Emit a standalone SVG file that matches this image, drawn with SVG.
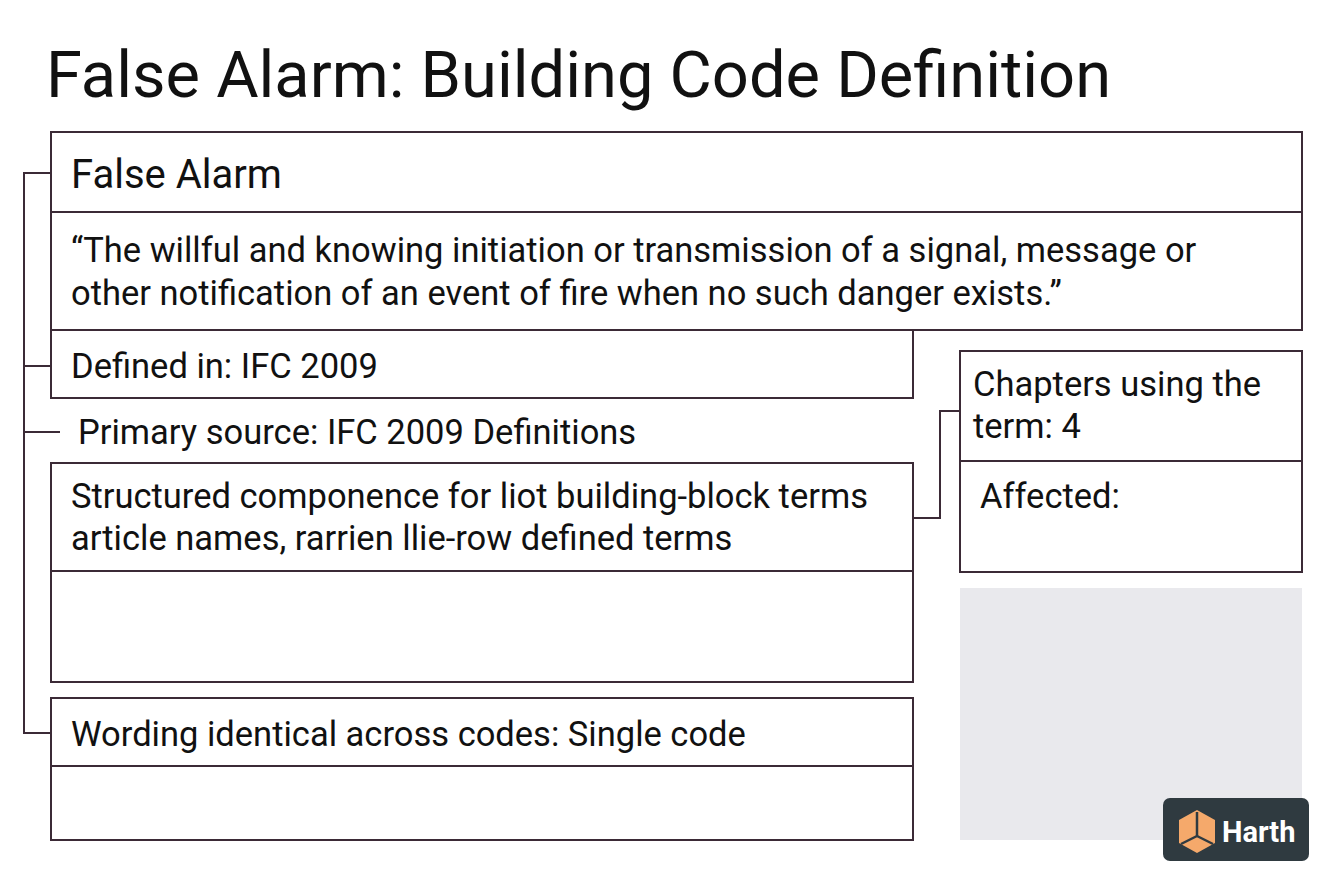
<svg xmlns="http://www.w3.org/2000/svg" width="1344" height="896" viewBox="0 0 1344 896">
<style>
.b{fill:#fff;stroke:#3b2a36;stroke-width:2}
.l{fill:none;stroke:#3b2a36;stroke-width:2}
text{font-family:Roboto,"Liberation Sans",sans-serif;fill:#111}
.t{font-size:34.5px}
</style>
<rect width="1344" height="896" fill="#fff"/>
<text x="46" y="97" font-size="65">False Alarm: Building Code Definition</text>
<g id="connectors">
<polyline class="l" points="51,173 24,173 24,733 51,733"/>
<line class="l" x1="24" y1="366" x2="51" y2="366"/>
<line class="l" x1="24" y1="432" x2="60" y2="432"/>
<polyline class="l" points="913,518 940,518 940,411 960,411"/>
</g>
<g id="definition">
<rect class="b" x="51" y="132" width="1251" height="198"/>
<line class="l" x1="51" y1="212" x2="1302" y2="212"/>
<text x="71" y="188" font-size="40">False Alarm</text>
<text x="71" y="262" class="t">“The willful and knowing initiation or transmission of a signal, message or</text>
<text x="71" y="305" class="t">other notification of an event of fire when no such danger exists.”</text>
</g>
<g id="defined-in">
<rect class="b" x="51" y="330" width="862" height="68"/>
<text x="71" y="378" class="t">Defined in: IFC 2009</text>
</g>
<g id="primary-source">
<text x="78" y="444" class="t">Primary source: IFC 2009 Definitions</text>
</g>
<g id="structured">
<rect class="b" x="51" y="463" width="862" height="219"/>
<line class="l" x1="51" y1="571" x2="913" y2="571"/>
<text x="71" y="508" class="t">Structured componence for liot building-block terms</text>
<text x="71" y="550" class="t">article names, rarrien llie-row defined terms</text>
</g>
<g id="wording">
<rect class="b" x="51" y="698" width="862" height="142"/>
<line class="l" x1="51" y1="766" x2="913" y2="766"/>
<text x="71" y="746" class="t">Wording identical across codes: Single code</text>
</g>
<g id="chapters">
<rect class="b" x="960" y="351" width="342" height="221"/>
<line class="l" x1="960" y1="461" x2="1302" y2="461"/>
<text x="973" y="396" class="t">Chapters using the</text>
<text x="973" y="438" class="t">term: 4</text>
<text x="980" y="508" class="t">Affected:</text>
</g>
<g id="placeholder">
<rect x="960" y="588" width="342" height="252" fill="#e9e9ed"/>
</g>
<g id="logo">
<rect x="1163" y="798" width="146" height="63" rx="7" fill="#2f3a40"/>
<polygon points="1197,810 1215,820 1215,843 1197,853 1179,843 1179,820" fill="#f5a96b"/>
<line x1="1197" y1="812" x2="1197" y2="836" stroke="#2f3a40" stroke-width="2.5"/>
<line x1="1197" y1="836" x2="1181" y2="844" stroke="#2f3a40" stroke-width="2.5"/>
<line x1="1197" y1="836" x2="1213" y2="844" stroke="#2f3a40" stroke-width="2.5"/>
<text x="1222" y="842" font-size="29" font-weight="bold" style="fill:#fff">Harth</text>
</g>
</svg>
